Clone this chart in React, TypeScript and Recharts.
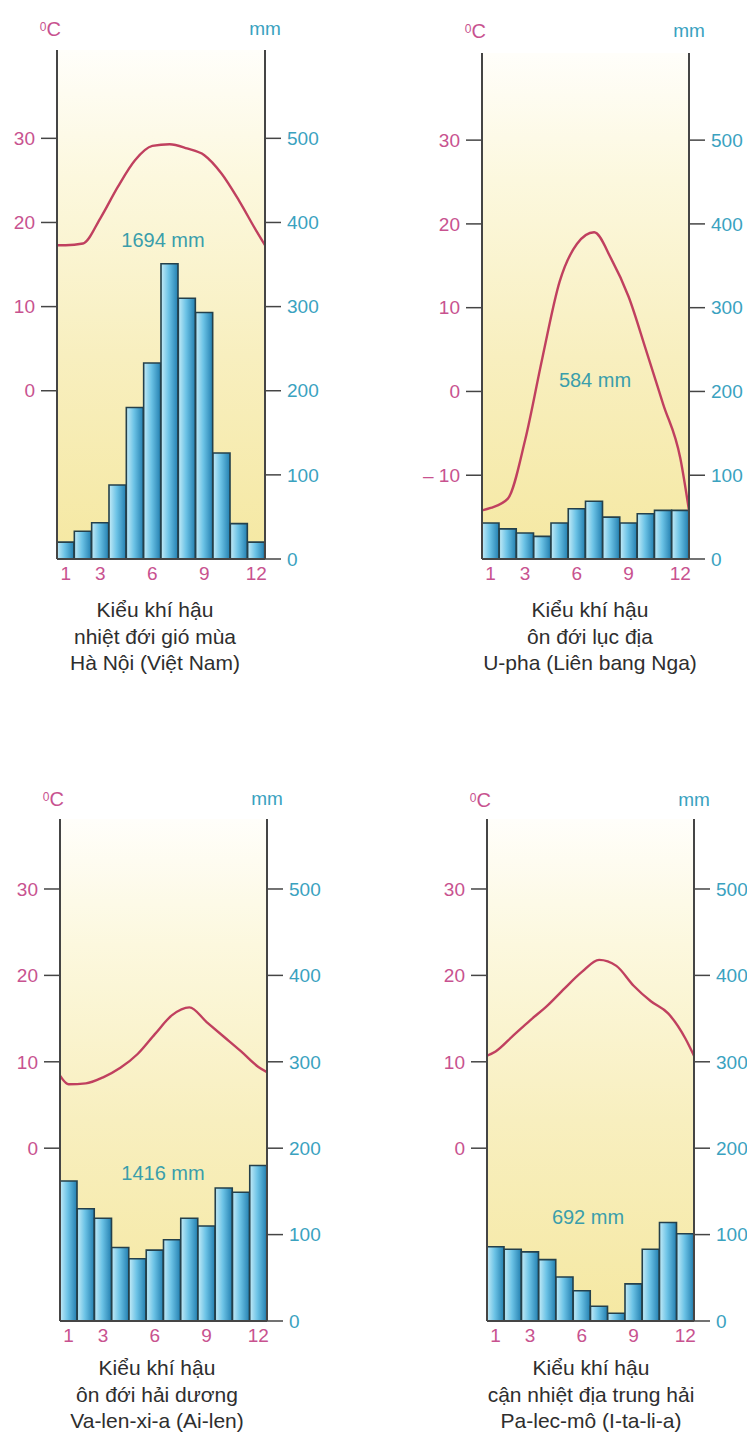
import React from 'react';
import { ComposedChart, Bar, Line, XAxis, YAxis, CartesianGrid } from 'recharts';

// ---------- data ----------
const months = [1, 2, 3, 4, 5, 6, 7, 8, 9, 10, 11, 12];
const monthTicks = [1, 3, 6, 9, 12];
const linePos = [0.5, 1, 2, 3, 4, 5, 6, 7, 8, 9, 10, 11, 12, 12.5];
const tempTicksA = [0, 10, 20, 30];
const tempTicksB = [-10, 0, 10, 20, 30];
const rainTicks = [0, 100, 200, 300, 400, 500];

const hanoiRain = [20, 33, 43, 88, 180, 233, 351, 310, 293, 126, 42, 20];
const hanoiTemp = [17.3, 17.3, 17.5, 20.5, 24.2, 27.4, 29.1, 29.3, 28.8, 28.0, 25.8, 22.6, 19.0, 17.3];

const ufaRain = [43, 36, 31, 27, 43, 60, 69, 50, 43, 54, 58, 58];
const ufaTemp = [-14.2, -13.9, -12.8, -5.8, 4.0, 13.1, 17.6, 19.0, 15.8, 11.3, 5.0, -1.5, -8.0, -14.2];

const valenciaRain = [162, 130, 119, 85, 72, 82, 94, 119, 110, 154, 149, 180];
const valenciaTemp = [8.4, 7.4, 7.5, 8.2, 9.3, 10.9, 13.2, 15.4, 16.3, 14.6, 12.9, 11.2, 9.4, 8.8];

const palermoRain = [86, 83, 80, 71, 51, 35, 17, 9, 43, 83, 114, 101];
const palermoTemp = [10.7, 11.2, 13.0, 14.8, 16.5, 18.5, 20.4, 21.8, 21.1, 18.8, 17.0, 15.6, 12.7, 10.7];

const totals = ['1694 mm', '584 mm', '1416 mm', '692 mm'];
const captions = [
  ['Kiểu khí hậu', 'nhiệt đới gió mùa', 'Hà Nội (Việt Nam)'],
  ['Kiểu khí hậu', 'ôn đới lục địa', 'U-pha (Liên bang Nga)'],
  ['Kiểu khí hậu', 'ôn đới hải dương', 'Va-len-xi-a (Ai-len)'],
  ['Kiểu khí hậu', 'cận nhiệt địa trung hải', 'Pa-lec-mô (I-ta-li-a)'],
];

// ---------- styles ----------
const PINK = '#c8528f';
const TEAL = '#3aa2bf';
const TEAL2 = '#3a9eab';
const LINE = '#c0405f';
const AXIS = '#454545';
const FONT = '"Liberation Sans", Arial, sans-serif';

type PanelProps = {
  id: string;
  left: number;
  right: number;
  top: number;
  bottom: number;
  tMax: number;
  rain: number[];
  temp: number[];
  tempTicks: number[];
  total: string;
  totalX: number;
  totalY: number;
  caption: string[];
  capX: number;
  capY: number;
  unitY: number;
};

const SIDE = 62;
const XH = 40;

function Panel(p: PanelProps) {
  const barData = months.map((m, i) => ({ m, r: p.rain[i] }));
  const lineData = linePos.map((x, i) => ({ x, t: p.temp[i] }));
  const w = p.right - p.left + SIDE * 2;
  const h = p.bottom - p.top + XH;
  return (
    <>
      <div style={{ position: 'absolute', left: p.left - SIDE, top: p.top, width: w, height: h }}>
        <ComposedChart
          width={w}
          height={h}
          data={barData}
          margin={{ top: 0, right: 0, bottom: 0, left: 0 }}
          barCategoryGap={0}
          barGap={0}
        >
          <defs>
            <linearGradient id={`bg-${p.id}`} x1="0" y1="0" x2="0" y2="1">
              <stop offset="0%" stopColor="#fffefa" />
              <stop offset="25%" stopColor="#fcf8de" />
              <stop offset="60%" stopColor="#f8efbf" />
              <stop offset="100%" stopColor="#f5e8a2" />
            </linearGradient>
            <linearGradient id={`bar-${p.id}`} x1="0" y1="0" x2="1" y2="0">
              <stop offset="0%" stopColor="#c4ebf7" />
              <stop offset="45%" stopColor="#6cc3e6" />
              <stop offset="100%" stopColor="#237fb0" />
            </linearGradient>
          </defs>
          <CartesianGrid
            xAxisId="cat"
            yAxisId="r"
            horizontal={false}
            vertical={false}
            fill={`url(#bg-${p.id})`}
            stroke="none"
          />
          <XAxis
            xAxisId="cat"
            dataKey="m"
            interval={0}
            height={XH}
            tickFormatter={(v: number) => (monthTicks.includes(v) ? String(v) : '')}
            tickLine={false}
            tickSize={0}
            tickMargin={8}
            axisLine={{ stroke: AXIS, strokeWidth: 2 }}
            tick={{ fill: PINK, fontSize: 19 }}
          />
          <XAxis xAxisId="num" type="number" dataKey="x" domain={[0.5, 12.5]} hide allowDataOverflow />
          <YAxis
            yAxisId="t"
            domain={[-20, p.tMax]}
            ticks={p.tempTicks}
            allowDataOverflow
            width={SIDE}
            tickSize={16}
            tickMargin={6}
            axisLine={{ stroke: AXIS, strokeWidth: 2 }}
            tickLine={{ stroke: AXIS, strokeWidth: 1.5 }}
            tick={{ fill: PINK, fontSize: 19 }}
            tickFormatter={(v: number) => (v < 0 ? `– ${Math.abs(v)}` : String(v))}
          />
          <YAxis
            yAxisId="r"
            orientation="right"
            domain={[0, p.tMax * 10 + 200]}
            ticks={rainTicks}
            allowDataOverflow
            width={SIDE}
            tickSize={16}
            tickMargin={6}
            axisLine={{ stroke: AXIS, strokeWidth: 2 }}
            tickLine={{ stroke: AXIS, strokeWidth: 1.5 }}
            tick={{ fill: TEAL, fontSize: 19, textAnchor: 'start' }}
          />
          <Bar
            xAxisId="cat"
            yAxisId="r"
            dataKey="r"
            fill={`url(#bar-${p.id})`}
            stroke="#24404b"
            strokeWidth={1.6}
            isAnimationActive={false}
          />
          <Line
            xAxisId="num"
            yAxisId="t"
            data={lineData}
            dataKey="t"
            type="monotone"
            stroke={LINE}
            strokeWidth={2.4}
            dot={false}
            activeDot={false}
            isAnimationActive={false}
          />
        </ComposedChart>
      </div>
      <div
        style={{
          position: 'absolute',
          left: p.left + 4 - 40,
          width: 40,
          textAlign: 'right',
          top: p.unitY - 12,
          fontSize: 20,
          color: PINK,
          lineHeight: '24px',
        }}
      >
        <span style={{ fontSize: 12, verticalAlign: 'top', position: 'relative', top: -2 }}>0</span>C
      </div>
      <div
        style={{
          position: 'absolute',
          left: p.right - 30,
          width: 60,
          textAlign: 'center',
          top: p.unitY - 12,
          fontSize: 19,
          color: TEAL,
          lineHeight: '24px',
        }}
      >
        mm
      </div>
      <div
        style={{
          position: 'absolute',
          left: p.totalX - 60,
          width: 120,
          textAlign: 'center',
          top: p.totalY - 12,
          fontSize: 20,
          color: TEAL2,
          lineHeight: '24px',
        }}
      >
        {p.total}
      </div>
      <div
        style={{
          position: 'absolute',
          left: p.capX - 150,
          width: 300,
          textAlign: 'center',
          top: p.capY - 13,
          fontSize: 21,
          color: '#2e2e2e',
          lineHeight: '26.5px',
        }}
      >
        {p.caption.map((c, i) => (
          <div key={i}>{c}</div>
        ))}
      </div>
    </>
  );
}

export default function App() {
  return (
    <div
      style={{
        position: 'absolute',
        left: 0,
        top: 0,
        width: 747,
        height: 1437,
        background: '#ffffff',
        fontFamily: FONT,
        overflow: 'hidden',
      }}
    >
      <Panel
        id="p1"
        left={57}
        right={265}
        top={50}
        bottom={559}
        tMax={40.5}
        rain={hanoiRain}
        temp={hanoiTemp}
        tempTicks={tempTicksA}
        total={totals[0]}
        totalX={163}
        totalY={240}
        caption={captions[0]}
        capX={155}
        capY={610}
        unitY={29}
      />
      <Panel
        id="p2"
        left={482}
        right={689}
        top={53}
        bottom={559}
        tMax={40.4}
        rain={ufaRain}
        temp={ufaTemp}
        tempTicks={tempTicksB}
        total={totals[1]}
        totalX={595}
        totalY={380}
        caption={captions[1]}
        capX={590}
        capY={610}
        unitY={31}
      />
      <Panel
        id="p3"
        left={60}
        right={267}
        top={819}
        bottom={1321}
        tMax={38.1}
        rain={valenciaRain}
        temp={valenciaTemp}
        tempTicks={tempTicksA}
        total={totals[2]}
        totalX={163}
        totalY={1173}
        caption={captions[2]}
        capX={157}
        capY={1368}
        unitY={799}
      />
      <Panel
        id="p4"
        left={487}
        right={694}
        top={819}
        bottom={1321}
        tMax={38.1}
        rain={palermoRain}
        temp={palermoTemp}
        tempTicks={tempTicksA}
        total={totals[3]}
        totalX={588}
        totalY={1217}
        caption={captions[3]}
        capX={591}
        capY={1368}
        unitY={800}
      />
    </div>
  );
}
